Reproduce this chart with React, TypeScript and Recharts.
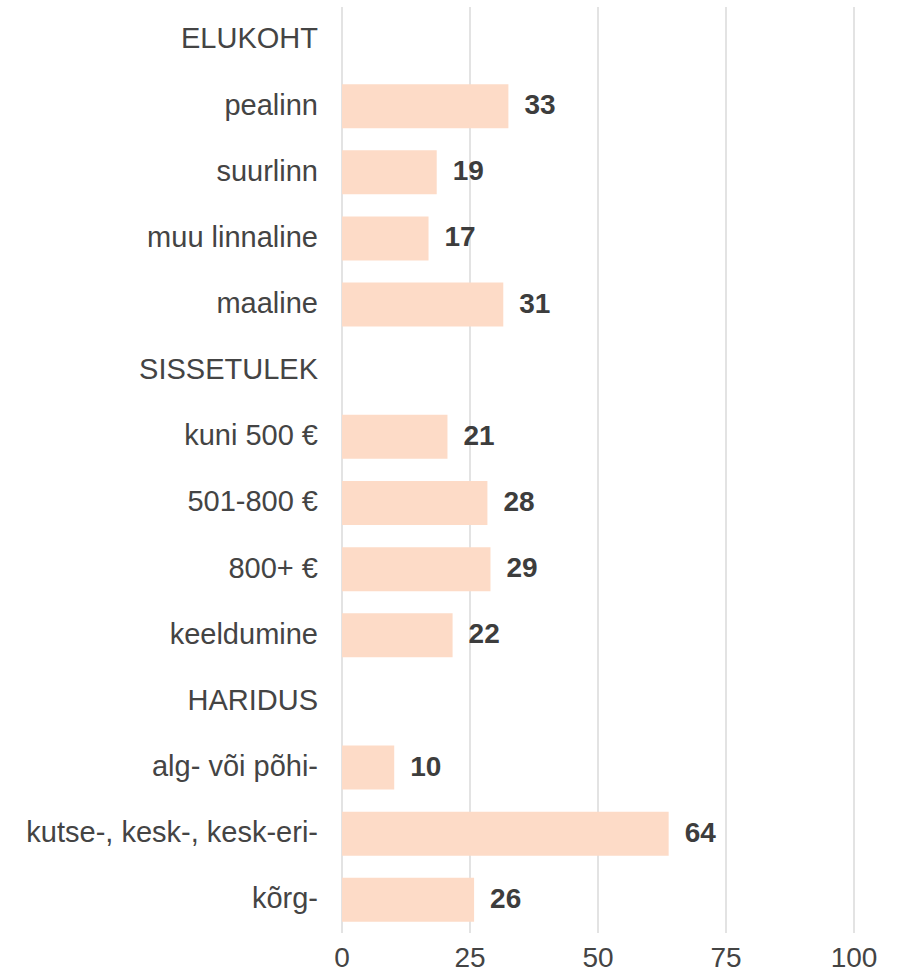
import { BarChart, Bar, XAxis, YAxis, CartesianGrid, LabelList } from 'recharts';

// Categories incl. group headers (headers have no bar)
const categories = [
  'ELUKOHT',
  'pealinn',
  'suurlinn',
  'muu linnaline',
  'maaline',
  'SISSETULEK',
  'kuni 500 €',
  '501-800 €',
  '800+ €',
  'keeldumine',
  'HARIDUS',
  'alg- või põhi-',
  'kutse-, kesk-, kesk-eri-',
  'kõrg-',
];

// bar lengths
const values: (number | null)[] = [null, 32.5, 18.5, 16.9, 31.5, null, 20.6, 28.4, 29, 21.6, null, 10.2, 63.8, 25.8];

// printed value labels
const valueLabels = ['', '33', '19', '17', '31', '', '21', '28', '29', '22', '', '10', '64', '26'];

const xTicks = [0, 25, 50, 75, 100];

const chartData = categories.map((name, i) => ({
  name,
  value: values[i],
  label: valueLabels[i],
}));

export default function App() {
  return (
    <div
      style={{
        position: 'absolute',
        left: 0,
        top: 0,
        width: 901,
        height: 972,
        background: '#fff',
        fontFamily: '"Liberation Sans", Arial, sans-serif',
      }}
    >
      <BarChart
        width={901}
        height={972}
        data={chartData}
        layout="vertical"
        margin={{ top: 7, right: 47, left: 0, bottom: 0 }}
      >
        <CartesianGrid horizontal={false} stroke="#e3e3e3" strokeWidth={2} />
        <XAxis
          type="number"
          domain={[0, 100]}
          ticks={xTicks}
          height={39}
          axisLine={false}
          tickLine={false}
          tickSize={6}
          tickMargin={8}
          tick={{ fontSize: 28, fill: '#444' }}
        />
        <YAxis
          type="category"
          dataKey="name"
          width={342}
          interval={0}
          axisLine={false}
          tickLine={false}
          tickSize={6}
          tickMargin={18}
          tick={{ fontSize: 29, fill: '#444', dy: -2 }}
        />
        <Bar dataKey="value" fill="#fddbc7" barSize={44} isAnimationActive={false}>
          <LabelList
            dataKey="label"
            position="right"
            offset={16}
            dy={-2}
            style={{ fontSize: 28, fontWeight: 'bold', fill: '#3d3d3d' }}
          />
        </Bar>
      </BarChart>
    </div>
  );
}
